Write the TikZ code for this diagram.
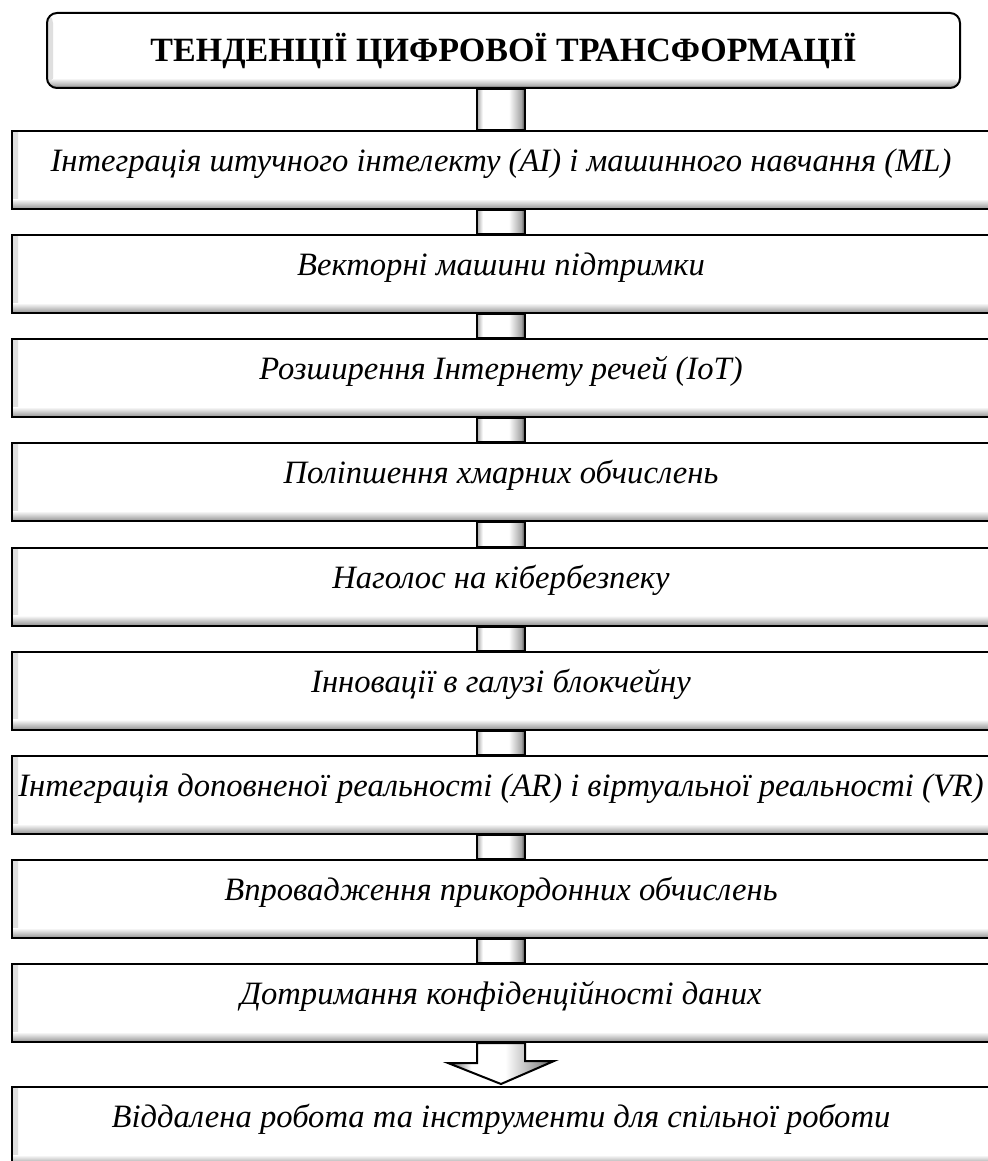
\documentclass[tikz,border=0pt]{standalone}
\usepackage{fontspec}
\setmainfont{Liberation Serif}
\usetikzlibrary{positioning,calc,backgrounds}

% shading of the short pipes between the boxes
\pgfdeclarehorizontalshading{pipe}{100bp}{color(0bp)=(gray!70); color(25bp)=(gray!70); color(31bp)=(white); color(58bp)=(white); color(71bp)=(gray!70); color(75bp)=(black!75); color(100bp)=(black!75)}
% shading of the arrow to the last box
\pgfdeclarehorizontalshading{spout}{100bp}{color(0bp)=(black!70); color(25bp)=(black!70); color(36bp)=(white); color(52bp)=(white); color(68bp)=(gray!80); color(75bp)=(black!70); color(100bp)=(black!70)}

\begin{document}
\begin{tikzpicture}[x=0.5pt,y=-0.5pt,
    bevel/.style={draw,line width=1pt,fill=white,inner sep=0pt,
        path picture={
            \shade[left color=gray!25,right color=white] (path picture bounding box.south west) rectangle ([xshift=3pt]path picture bounding box.north west);
            \shade[top color=white,bottom color=gray!85] ([yshift=5pt]path picture bounding box.south west) rectangle (path picture bounding box.south east);
        }},
    trend/.style={bevel,minimum width=489pt,minimum height=39pt,
        font=\fontsize{16.3}{19}\selectfont\itshape,text height=10.8pt,text depth=9pt},
    heading/.style={bevel,rounded corners=5pt,minimum width=456.5pt,minimum height=37.5pt,
        font=\fontsize{17}{20}\selectfont\bfseries,text height=11.25pt,text depth=0pt},
    pipe/.style={draw,line width=1pt,shading=pipe}]

    \useasboundingbox (0,0) rectangle (987,1161);

    % heading
    \node[heading] (head) at (503.5,50.5) {ТЕНДЕНЦІЇ ЦИФРОВОЇ ТРАНСФОРМАЦІЇ};

    % trends
    \node[trend] (ai)      at (501,170)   {Інтеграція штучного інтелекту (AI) і машинного навчання (ML)};
    \node[trend] (svm)     at (501,274)   {Векторні машини підтримки};
    \node[trend] (iot)     at (501,378)   {Розширення Інтернету речей (IoT)};
    \node[trend] (cloud)   at (501,482)   {Поліпшення хмарних обчислень};
    \node[trend] (sec)     at (501,586.5) {Наголос на кібербезпеку};
    \node[trend] (chain)   at (501,690.5) {Інновації в галузі блокчейну};
    \node[trend] (arvr)    at (501,795)   {Інтеграція доповненої реальності (AR) і віртуальної реальності (VR)};
    \node[trend] (edge)    at (501,899)   {Впровадження прикордонних обчислень};
    \node[trend] (privacy) at (501,1003)  {Дотримання конфіденційності даних};
    \node[trend] (remote)  at (501,1126)  {Віддалена робота та інструменти для спільної роботи};

    \begin{scope}[on background layer]
        % pipes
        \foreach \a/\b in {head/ai,ai/svm,svm/iot,iot/cloud,cloud/sec,sec/chain,chain/arvr,arvr/edge,edge/privacy}
            \path[pipe] ([xshift=-12pt]\b.north |- \a.south) rectangle ([xshift=12pt]\b.north);

        % arrow to the last box
        \path[pipe,shading=spout] ([xshift=-12pt]privacy.south) -- ++(0,20) -- ++(-29,0) -- ([yshift=1pt]remote.north)
            -- ++(53,-23) -- ++(-29,0) -- ([xshift=12pt]privacy.south) -- cycle;
    \end{scope}
\end{tikzpicture}
\end{document}
